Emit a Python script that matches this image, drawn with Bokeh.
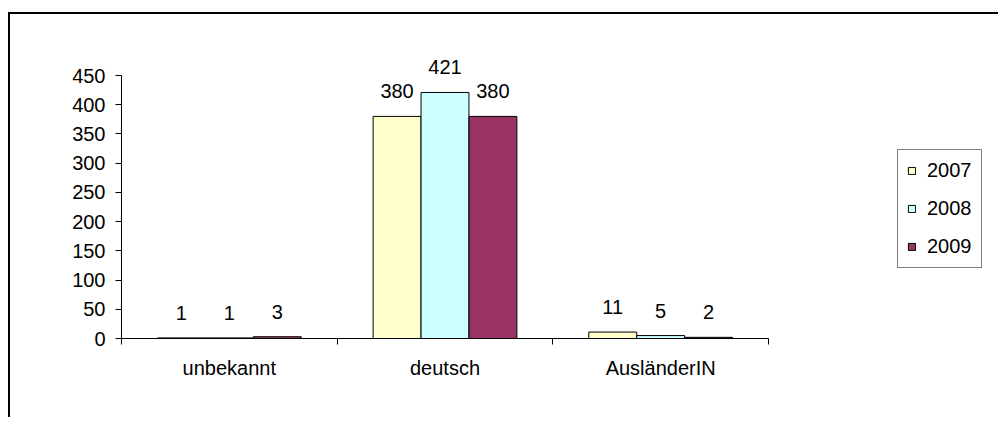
from bokeh.plotting import figure
from bokeh.models import (Range1d, FixedTicker, LinearAxis, ColumnDataSource,
                          Legend, LegendItem, LabelSet)
from bokeh.core.properties import value
from bokeh.embed import file_html
from bokeh.resources import INLINE

categories = ["unbekannt", "deutsch", "AusländerIN"]
years = ["2007", "2008", "2009"]
values_2007 = [1, 380, 11]
values_2008 = [1, 421, 5]
values_2009 = [3, 380, 2]
series = [values_2007, values_2008, values_2009]
colors = ["#FFFFCC", "#CCFFFF", "#993366"]
y_ticks = [0, 50, 100, 150, 200, 250, 300, 350, 400, 450]

FONT = "Liberation Sans"
FS = "20px"

# layout (canvas pixels)
W, H = 990, 405
AX_LEFT, AX_BOTTOM = 111, 324          # axis origin
AX_TOP, AX_RIGHT = 61, 758             # y=450 and x=3 positions
y_max_axis = y_ticks[-1]
n_cat = len(categories)
py = (AX_BOTTOM - AX_TOP) / y_max_axis
px = (AX_RIGHT - AX_LEFT) / n_cat
y_top = y_max_axis + AX_TOP / py
x_right = n_cat + (W - AX_RIGHT) / px

p = figure(width=W, height=H,
           x_range=Range1d(0, x_right), y_range=Range1d(0, y_top),
           output_backend="svg", toolbar_location=None,
           x_axis_type=None, y_axis_type=None,
           min_border_left=AX_LEFT, min_border_top=0,
           min_border_right=0, min_border_bottom=H - AX_BOTTOM)
p.grid.visible = False
p.outline_line_color = None
p.background_fill_color = "white"
p.border_fill_color = "white"
p.styles = {"margin-left": "8px", "margin-top": "12px",
            "border-left": "2px solid black", "border-top": "2px solid black"}

bw = 1 / 4.5
renderers = []
for j, (yr, vals, col) in enumerate(zip(years, series, colors)):
    xs = [i + 0.5 + (j - 1) * bw for i in range(n_cat)]
    src = ColumnDataSource(dict(x=xs, top=vals, label=[str(v) for v in vals]))
    r = p.vbar(x="x", top="top", bottom=0, width=bw, source=src,
               fill_color=col, line_color="black", line_width=1)
    renderers.append(r)
    lbl = LabelSet(x="x", y="top", text="label", source=src,
                   text_align="center", text_baseline="alphabetic",
                   y_offset=18, text_font=value(FONT), text_font_size=value(FS),
                   text_color="black")
    p.add_layout(lbl)

yaxis = LinearAxis(ticker=FixedTicker(ticks=y_ticks, minor_ticks=[]),
                   bounds=(0, y_max_axis),
                   axis_line_color="black", axis_line_width=1,
                   major_tick_out=6, major_tick_in=0,
                   major_tick_line_color="black",
                   minor_tick_line_color=None,
                   major_label_standoff=10,
                   major_label_text_font=FONT,
                   major_label_text_font_size=FS,
                   major_label_text_color="black")
p.add_layout(yaxis, "left")

centers = [i + 0.5 for i in range(n_cat)]
bounds = [float(i) for i in range(n_cat + 1)]
xaxis = LinearAxis(ticker=FixedTicker(ticks=centers, minor_ticks=bounds),
                   bounds=(0, n_cat),
                   major_label_overrides={c: n for c, n in zip(centers, categories)},
                   axis_line_color="black", axis_line_width=1,
                   major_tick_out=0, major_tick_in=0,
                   major_tick_line_color=None,
                   minor_tick_out=6, minor_tick_in=0,
                   minor_tick_line_color="black",
                   major_label_standoff=12,
                   major_label_text_font=FONT,
                   major_label_text_font_size=FS,
                   major_label_text_color="black")
p.add_layout(xaxis, "below")

legend = Legend(items=[LegendItem(label=yr, renderers=[r]) for yr, r in zip(years, renderers)],
                location=(776, 70),
                border_line_color="black", border_line_width=1,
                padding=9, spacing=15, margin=0,
                glyph_width=9, glyph_height=9,
                label_height=20, label_standoff=11,
                label_text_font=FONT, label_text_font_size=FS,
                label_text_color="black",
                background_fill_color="white")
p.add_layout(legend, "center")

open("out.html", "w").write(file_html(p, INLINE))
